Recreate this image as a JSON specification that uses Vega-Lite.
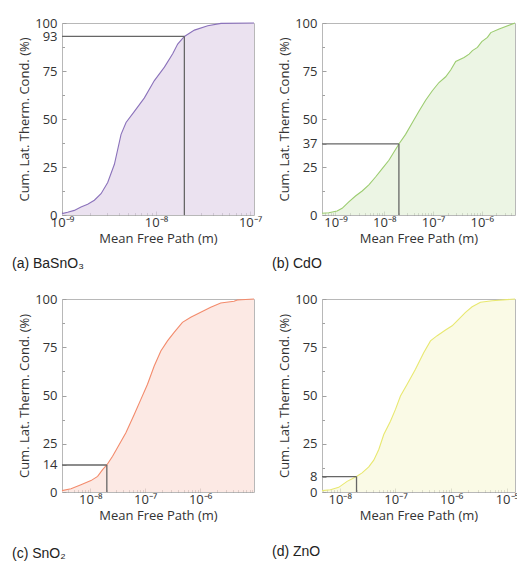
{
  "$schema": "https://vega.github.io/schema/vega-lite/v6.json",
  "padding": {"left": 11, "top": 16, "right": 0, "bottom": 0},
  "bounds": "flush",
  "columns": 2,
  "spacing": {"row": 84, "column": 68},
  "datasets": {
    "curves": [
      {"p": "a", "x": 1e-9, "y": 0.7}, {"p": "a", "x": 1.148e-9, "y": 1.4}, {"p": "a", "x": 1.352e-9, "y": 2.4},
      {"p": "a", "x": 1.592e-9, "y": 4.2}, {"p": "a", "x": 1.875e-9, "y": 5.6}, {"p": "a", "x": 2.208e-9, "y": 7.7},
      {"p": "a", "x": 2.6e-9, "y": 11.1}, {"p": "a", "x": 3.062e-9, "y": 16.9}, {"p": "a", "x": 3.606e-9, "y": 26.4},
      {"p": "a", "x": 4.246e-9, "y": 42}, {"p": "a", "x": 4.797e-9, "y": 48.2}, {"p": "a", "x": 5.888e-9, "y": 54},
      {"p": "a", "x": 7.516e-9, "y": 61}, {"p": "a", "x": 9.594e-9, "y": 70}, {"p": "a", "x": 1.227e-8, "y": 77},
      {"p": "a", "x": 1.503e-8, "y": 84}, {"p": "a", "x": 1.698e-8, "y": 89}, {"p": "a", "x": 2.0e-8, "y": 93},
      {"p": "a", "x": 2.559e-8, "y": 96.3}, {"p": "a", "x": 3.548e-8, "y": 98.6}, {"p": "a", "x": 4.909e-8, "y": 99.8},
      {"p": "a", "x": 1.1e-7, "y": 100},

      {"p": "b", "x": 5.3e-10, "y": 0.9}, {"p": "b", "x": 7.3e-10, "y": 1.2}, {"p": "b", "x": 1.081e-9, "y": 2.1},
      {"p": "b", "x": 1.371e-9, "y": 3.5}, {"p": "b", "x": 1.879e-9, "y": 6.8}, {"p": "b", "x": 2.576e-9, "y": 9.9},
      {"p": "b", "x": 3.532e-9, "y": 12.5}, {"p": "b", "x": 4.842e-9, "y": 15.7}, {"p": "b", "x": 6.637e-9, "y": 19.8},
      {"p": "b", "x": 9.099e-9, "y": 24.2}, {"p": "b", "x": 1.247e-8, "y": 28.5}, {"p": "b", "x": 2.0e-8, "y": 37},
      {"p": "b", "x": 2.742e-8, "y": 42}, {"p": "b", "x": 3.758e-8, "y": 48}, {"p": "b", "x": 5.152e-8, "y": 54},
      {"p": "b", "x": 7.063e-8, "y": 59.8}, {"p": "b", "x": 9.683e-8, "y": 64.7}, {"p": "b", "x": 1.327e-7, "y": 69},
      {"p": "b", "x": 1.82e-7, "y": 72}, {"p": "b", "x": 2.306e-7, "y": 75.5}, {"p": "b", "x": 2.922e-7, "y": 80},
      {"p": "b", "x": 4.335e-7, "y": 82}, {"p": "b", "x": 5.495e-7, "y": 83.8}, {"p": "b", "x": 6.43e-7, "y": 85.6},
      {"p": "b", "x": 8.15e-7, "y": 87.3}, {"p": "b", "x": 1.0e-6, "y": 90.3}, {"p": "b", "x": 1.306e-6, "y": 92.5},
      {"p": "b", "x": 1.531e-6, "y": 95}, {"p": "b", "x": 2.27e-6, "y": 96.9}, {"p": "b", "x": 4.8e-6, "y": 100},

      {"p": "c", "x": 3.05e-9, "y": 0.7}, {"p": "c", "x": 4.45e-9, "y": 1.7}, {"p": "c", "x": 6.76e-9, "y": 3.8},
      {"p": "c", "x": 1.028e-8, "y": 5.9}, {"p": "c", "x": 1.359e-8, "y": 8.1}, {"p": "c", "x": 1.675e-8, "y": 11.6},
      {"p": "c", "x": 2.0e-8, "y": 14}, {"p": "c", "x": 2.546e-8, "y": 18.5}, {"p": "c", "x": 3.366e-8, "y": 24.6},
      {"p": "c", "x": 4.45e-8, "y": 30.7}, {"p": "c", "x": 6.31e-8, "y": 40.2}, {"p": "c", "x": 8.34e-8, "y": 48},
      {"p": "c", "x": 1.102e-7, "y": 55.8}, {"p": "c", "x": 1.459e-7, "y": 65.3}, {"p": "c", "x": 1.928e-7, "y": 73.1},
      {"p": "c", "x": 2.547e-7, "y": 78.3}, {"p": "c", "x": 3.366e-7, "y": 82.7}, {"p": "c", "x": 4.77e-7, "y": 87.9},
      {"p": "c", "x": 6.76e-7, "y": 90.5}, {"p": "c", "x": 1.028e-6, "y": 93.1}, {"p": "c", "x": 1.563e-6, "y": 95.7},
      {"p": "c", "x": 2.376e-6, "y": 97.9}, {"p": "c", "x": 4.15e-6, "y": 98.8}, {"p": "c", "x": 4.77e-6, "y": 99.5},
      {"p": "c", "x": 9.6e-6, "y": 100},

      {"p": "d", "x": 4.8e-9, "y": 0.7}, {"p": "d", "x": 6.79e-9, "y": 1.2}, {"p": "d", "x": 9.59e-9, "y": 2.4},
      {"p": "d", "x": 1.355e-8, "y": 5.5}, {"p": "d", "x": 2.0e-8, "y": 8}, {"p": "d", "x": 2.518e-8, "y": 9.9},
      {"p": "d", "x": 3.319e-8, "y": 13}, {"p": "d", "x": 4.08e-8, "y": 16.5}, {"p": "d", "x": 5.02e-8, "y": 22},
      {"p": "d", "x": 6.17e-8, "y": 29.8}, {"p": "d", "x": 8.13e-8, "y": 36.7}, {"p": "d", "x": 1.0e-7, "y": 42.8},
      {"p": "d", "x": 1.23e-7, "y": 49.7}, {"p": "d", "x": 1.622e-7, "y": 55.8}, {"p": "d", "x": 2.286e-7, "y": 63.6},
      {"p": "d", "x": 3.228e-7, "y": 72.3}, {"p": "d", "x": 4.255e-7, "y": 78.3}, {"p": "d", "x": 5.61e-7, "y": 81},
      {"p": "d", "x": 7.91e-7, "y": 83.9}, {"p": "d", "x": 1.042e-6, "y": 86.1}, {"p": "d", "x": 1.374e-6, "y": 89.6},
      {"p": "d", "x": 1.808e-6, "y": 93.1}, {"p": "d", "x": 2.38e-6, "y": 96}, {"p": "d", "x": 3.36e-6, "y": 98.3},
      {"p": "d", "x": 5.45e-6, "y": 99.1}, {"p": "d", "x": 1.4e-5, "y": 100}
    ],
    "refs": [
      {"p": "a", "x0": 1e-9, "xr": 2e-8, "y0": 0, "yr": 93},
      {"p": "b", "x0": 5.3e-10, "xr": 2e-8, "y0": 0, "yr": 37},
      {"p": "c", "x0": 3.05e-9, "xr": 2e-8, "y0": 0, "yr": 14},
      {"p": "d", "x0": 4.8e-9, "xr": 2e-8, "y0": 0, "yr": 8}
    ]
  },
  "concat": [
    {
      "width": 192, "height": 192,
      "title": {"text": "(a) BaSnO₃", "orient": "bottom", "anchor": "start", "frame": "group", "dx": -50, "offset": 12},
      "layer": [
        {"data": {"name": "curves"}, "transform": [{"filter": "datum.p === 'a'"}],
         "mark": {"type": "area", "color": "#e3d5ea", "line": {"color": "#8b72bb", "strokeWidth": 1.1}},
         "encoding": {
           "x": {"field": "x", "type": "quantitative", "scale": {"type": "log", "domain": [1e-9, 1.1e-7], "nice": false},
                 "axis": {"orient": "bottom", "title": "Mean Free Path (m)", "values": [1e-9, 1e-8, 1e-7], "tickSize": -4, "labelPadding": 5, "titlePadding": 3,
                          "labelExpr": "'10⁻' + (datum.value < 5e-9 ? '⁹' : datum.value < 5e-8 ? '⁸' : datum.value < 5e-7 ? '⁷' : datum.value < 5e-6 ? '⁶' : '⁵')"}},
           "y": {"field": "y", "type": "quantitative", "scale": {"domain": [0, 100], "nice": false},
                 "axis": {"orient": "left", "title": "Cum. Lat. Therm. Cond. (%)", "values": [0, 25, 50, 75, 93, 100], "tickSize": -4, "labelPadding": 9, "titlePadding": 3}}
         }},
        {"data": {"name": "refs"}, "transform": [{"filter": "datum.p === 'a'"}],
         "mark": {"type": "rule", "color": "#666666", "strokeWidth": 1.3},
         "encoding": {
           "x": {"field": "x0", "type": "quantitative", "axis": {"orient": "bottom", "title": null, "labels": false, "tickSize": -2.5, "values": [2e-9, 3e-9, 4e-9, 5e-9, 6e-9, 7e-9, 8e-9, 9e-9, 2e-8, 3e-8, 4e-8, 5e-8, 6e-8, 7e-8, 8e-8, 9e-8]}},
           "x2": {"field": "xr"},
           "y": {"field": "yr", "type": "quantitative", "axis": {"orient": "left", "title": null, "labels": false, "tickSize": -2.5, "values": [12.5, 37.5, 62.5, 87.5]}}
         }},
        {"data": {"name": "refs"}, "transform": [{"filter": "datum.p === 'a'"}],
         "mark": {"type": "rule", "color": "#666666", "strokeWidth": 1.3},
         "encoding": {
           "x": {"field": "xr", "type": "quantitative", "axis": null},
           "y": {"field": "y0", "type": "quantitative", "axis": null},
           "y2": {"field": "yr"}
         }}
      ],
      "resolve": {"axis": {"x": "independent", "y": "independent"}}
    },
    {
      "width": 193, "height": 192,
      "title": {"text": "(b) CdO", "orient": "bottom", "anchor": "start", "frame": "group", "dx": -50, "offset": 12},
      "layer": [
        {"data": {"name": "curves"}, "transform": [{"filter": "datum.p === 'b'"}],
         "mark": {"type": "area", "color": "#e4f1d9", "line": {"color": "#9ccc70", "strokeWidth": 1.1}},
         "encoding": {
           "x": {"field": "x", "type": "quantitative", "scale": {"type": "log", "domain": [5.3e-10, 4.8e-6], "nice": false},
                 "axis": {"orient": "bottom", "title": "Mean Free Path (m)", "values": [1e-9, 1e-8, 1e-7, 1e-6], "tickSize": -4, "labelPadding": 5, "titlePadding": 3,
                          "labelExpr": "'10⁻' + (datum.value < 5e-9 ? '⁹' : datum.value < 5e-8 ? '⁸' : datum.value < 5e-7 ? '⁷' : datum.value < 5e-6 ? '⁶' : '⁵')"}},
           "y": {"field": "y", "type": "quantitative", "scale": {"domain": [0, 100], "nice": false},
                 "axis": {"orient": "left", "title": "Cum. Lat. Therm. Cond. (%)", "values": [0, 25, 37, 50, 75, 100], "tickSize": -4, "labelPadding": 9, "titlePadding": 3}}
         }},
        {"data": {"name": "refs"}, "transform": [{"filter": "datum.p === 'b'"}],
         "mark": {"type": "rule", "color": "#666666", "strokeWidth": 1.3},
         "encoding": {
           "x": {"field": "x0", "type": "quantitative", "axis": {"orient": "bottom", "title": null, "labels": false, "tickSize": -2.5, "values": [6e-10, 7e-10, 8e-10, 9e-10, 2e-9, 3e-9, 4e-9, 5e-9, 6e-9, 7e-9, 8e-9, 9e-9, 2e-8, 3e-8, 4e-8, 5e-8, 6e-8, 7e-8, 8e-8, 9e-8, 2e-7, 3e-7, 4e-7, 5e-7, 6e-7, 7e-7, 8e-7, 9e-7, 2e-6, 3e-6, 4e-6]}},
           "x2": {"field": "xr"},
           "y": {"field": "yr", "type": "quantitative", "axis": {"orient": "left", "title": null, "labels": false, "tickSize": -2.5, "values": [12.5, 62.5, 87.5]}}
         }},
        {"data": {"name": "refs"}, "transform": [{"filter": "datum.p === 'b'"}],
         "mark": {"type": "rule", "color": "#666666", "strokeWidth": 1.3},
         "encoding": {
           "x": {"field": "xr", "type": "quantitative", "axis": null},
           "y": {"field": "y0", "type": "quantitative", "axis": null},
           "y2": {"field": "yr"}
         }}
      ],
      "resolve": {"axis": {"x": "independent", "y": "independent"}}
    },
    {
      "width": 192, "height": 193,
      "title": {"text": "(c) SnO₂", "orient": "bottom", "anchor": "start", "frame": "group", "dx": -50, "offset": 25},
      "layer": [
        {"data": {"name": "curves"}, "transform": [{"filter": "datum.p === 'c'"}],
         "mark": {"type": "area", "color": "#fbe0d9", "line": {"color": "#f38b6c", "strokeWidth": 1.1}},
         "encoding": {
           "x": {"field": "x", "type": "quantitative", "scale": {"type": "log", "domain": [3.05e-9, 9.6e-6], "nice": false},
                 "axis": {"orient": "bottom", "title": "Mean Free Path (m)", "values": [1e-8, 1e-7, 1e-6], "tickSize": -4, "labelPadding": 5, "titlePadding": 3,
                          "labelExpr": "'10⁻' + (datum.value < 5e-9 ? '⁹' : datum.value < 5e-8 ? '⁸' : datum.value < 5e-7 ? '⁷' : datum.value < 5e-6 ? '⁶' : '⁵')"}},
           "y": {"field": "y", "type": "quantitative", "scale": {"domain": [0, 100], "nice": false},
                 "axis": {"orient": "left", "title": "Cum. Lat. Therm. Cond. (%)", "values": [0, 14, 25, 50, 75, 100], "tickSize": -4, "labelPadding": 9, "titlePadding": 3}}
         }},
        {"data": {"name": "refs"}, "transform": [{"filter": "datum.p === 'c'"}],
         "mark": {"type": "rule", "color": "#666666", "strokeWidth": 1.3},
         "encoding": {
           "x": {"field": "x0", "type": "quantitative", "axis": {"orient": "bottom", "title": null, "labels": false, "tickSize": -2.5, "values": [4e-9, 5e-9, 6e-9, 7e-9, 8e-9, 9e-9, 2e-8, 3e-8, 4e-8, 5e-8, 6e-8, 7e-8, 8e-8, 9e-8, 2e-7, 3e-7, 4e-7, 5e-7, 6e-7, 7e-7, 8e-7, 9e-7, 2e-6, 3e-6, 4e-6, 5e-6, 6e-6, 7e-6, 8e-6, 9e-6]}},
           "x2": {"field": "xr"},
           "y": {"field": "yr", "type": "quantitative", "axis": {"orient": "left", "title": null, "labels": false, "tickSize": -2.5, "values": [37.5, 62.5, 87.5]}}
         }},
        {"data": {"name": "refs"}, "transform": [{"filter": "datum.p === 'c'"}],
         "mark": {"type": "rule", "color": "#666666", "strokeWidth": 1.3},
         "encoding": {
           "x": {"field": "xr", "type": "quantitative", "axis": null},
           "y": {"field": "y0", "type": "quantitative", "axis": null},
           "y2": {"field": "yr"}
         }}
      ],
      "resolve": {"axis": {"x": "independent", "y": "independent"}}
    },
    {
      "width": 193, "height": 193,
      "title": {"text": "(d) ZnO", "orient": "bottom", "anchor": "start", "frame": "group", "dx": -50, "offset": 23},
      "layer": [
        {"data": {"name": "curves"}, "transform": [{"filter": "datum.p === 'd'"}],
         "mark": {"type": "area", "color": "#f8f8dc", "line": {"color": "#e8e870", "strokeWidth": 1.1}},
         "encoding": {
           "x": {"field": "x", "type": "quantitative", "scale": {"type": "log", "domain": [4.8e-9, 1.4e-5], "nice": false},
                 "axis": {"orient": "bottom", "title": "Mean Free Path (m)", "values": [1e-8, 1e-7, 1e-6, 1e-5], "tickSize": -4, "labelPadding": 5, "titlePadding": 3,
                          "labelExpr": "'10⁻' + (datum.value < 5e-9 ? '⁹' : datum.value < 5e-8 ? '⁸' : datum.value < 5e-7 ? '⁷' : datum.value < 5e-6 ? '⁶' : '⁵')"}},
           "y": {"field": "y", "type": "quantitative", "scale": {"domain": [0, 100], "nice": false},
                 "axis": {"orient": "left", "title": "Cum. Lat. Therm. Cond. (%)", "values": [0, 8, 25, 50, 75, 100], "tickSize": -4, "labelPadding": 9, "titlePadding": 3}}
         }},
        {"data": {"name": "refs"}, "transform": [{"filter": "datum.p === 'd'"}],
         "mark": {"type": "rule", "color": "#666666", "strokeWidth": 1.3},
         "encoding": {
           "x": {"field": "x0", "type": "quantitative", "axis": {"orient": "bottom", "title": null, "labels": false, "tickSize": -2.5, "values": [5e-9, 6e-9, 7e-9, 8e-9, 9e-9, 2e-8, 3e-8, 4e-8, 5e-8, 6e-8, 7e-8, 8e-8, 9e-8, 2e-7, 3e-7, 4e-7, 5e-7, 6e-7, 7e-7, 8e-7, 9e-7, 2e-6, 3e-6, 4e-6, 5e-6, 6e-6, 7e-6, 8e-6, 9e-6]}},
           "x2": {"field": "xr"},
           "y": {"field": "yr", "type": "quantitative", "axis": {"orient": "left", "title": null, "labels": false, "tickSize": -2.5, "values": [12.5, 37.5, 62.5, 87.5]}}
         }},
        {"data": {"name": "refs"}, "transform": [{"filter": "datum.p === 'd'"}],
         "mark": {"type": "rule", "color": "#666666", "strokeWidth": 1.3},
         "encoding": {
           "x": {"field": "xr", "type": "quantitative", "axis": null},
           "y": {"field": "y0", "type": "quantitative", "axis": null},
           "y2": {"field": "yr"}
         }}
      ],
      "resolve": {"axis": {"x": "independent", "y": "independent"}}
    }
  ],
  "config": {
    "view": {"stroke": "#b8b8b8", "strokeWidth": 1},
    "axis": {"domain": false, "grid": false, "labelFont": "Open Sans", "labelFontSize": 13, "labelColor": "#333333",
             "titleFont": "Open Sans", "titleFontSize": 13, "titleFontWeight": "normal", "titleColor": "#333333",
             "tickColor": "#a0a0a0", "labelFlush": false, "labelOverlap": false},
    "title": {"font": "Liberation Sans", "fontSize": 14, "fontWeight": "normal", "color": "#222222"}
  }
}
